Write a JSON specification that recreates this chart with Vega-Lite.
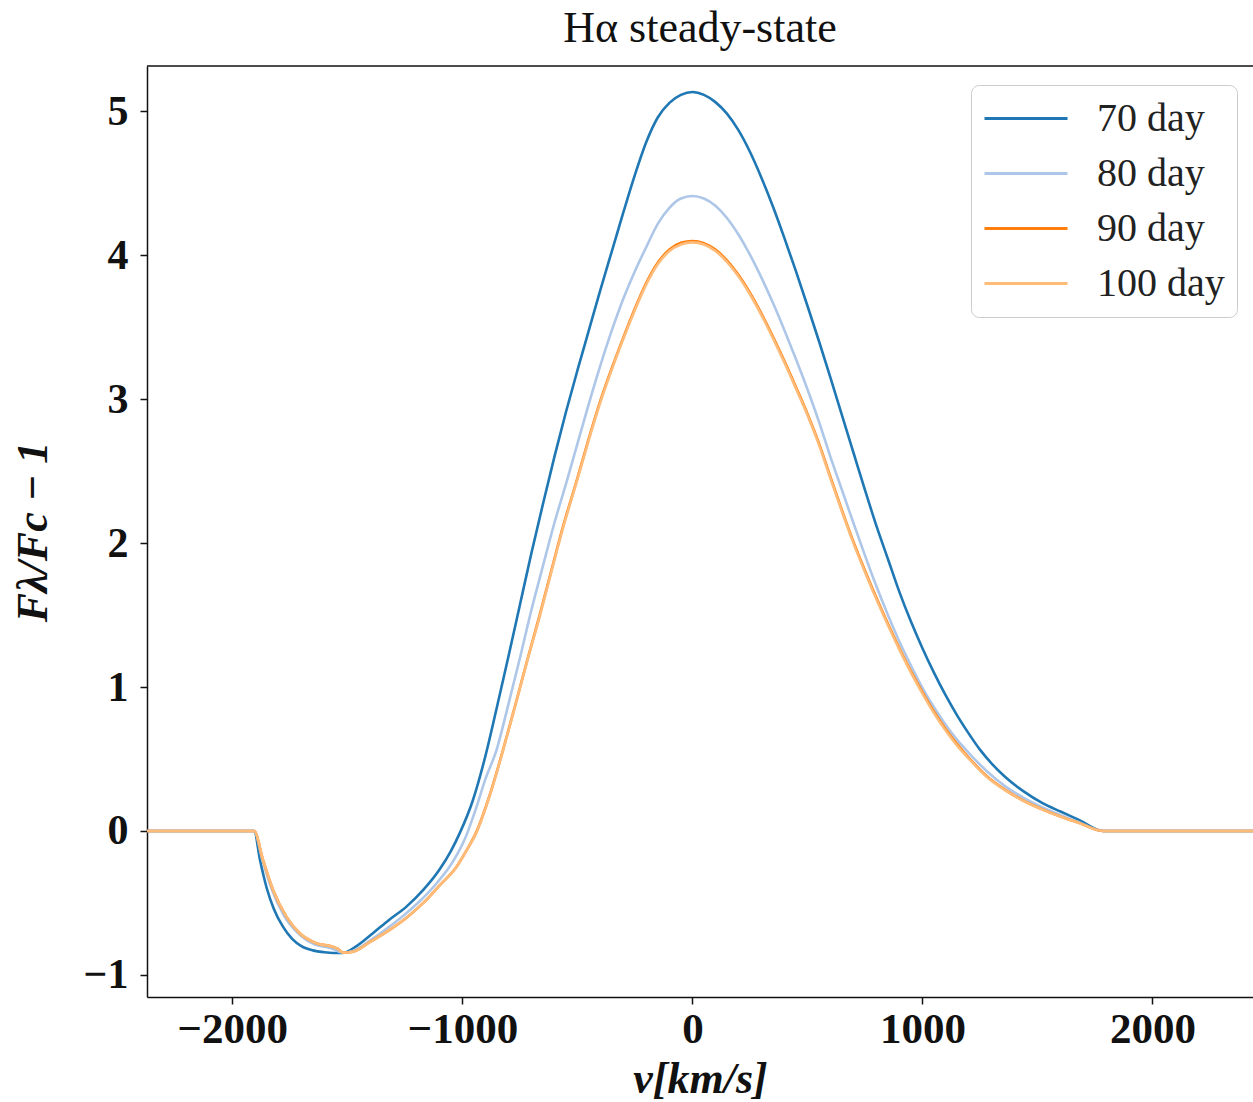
{
  "$schema": "https://vega.github.io/schema/vega-lite/v6.json",
  "width": 1106,
  "height": 931,
  "autosize": {"type": "none"},
  "padding": {"left": 147, "top": 66, "right": 0, "bottom": 105},
  "background": "white",
  "config": {"view": {"stroke": null}, "font": "Liberation Serif"},
  "title": {"text": "Hα steady-state", "fontSize": 44, "font": "Liberation Serif", "fontWeight": "normal", "color": "#111111", "offset": 14, "anchor": "middle"},
  "datasets": {
    "d70": [
      {"v": -2400, "f": 0}, {"v": -1905, "f": 0}, {"v": -1880, "f": -0.2}, {"v": -1850, "f": -0.4}, {"v": -1820, "f": -0.54}, {"v": -1780, "f": -0.665}, {"v": -1740, "f": -0.75}, {"v": -1700, "f": -0.8}, {"v": -1650, "f": -0.83}, {"v": -1600, "f": -0.843}, {"v": -1560, "f": -0.848}, {"v": -1520, "f": -0.848}, {"v": -1460, "f": -0.8}, {"v": -1389, "f": -0.711}, {"v": -1320, "f": -0.62}, {"v": -1243, "f": -0.526}, {"v": -1170, "f": -0.41}, {"v": -1100, "f": -0.27}, {"v": -1050, "f": -0.14}, {"v": -1010, "f": -0.01}, {"v": -955, "f": 0.21}, {"v": -900, "f": 0.52}, {"v": -850, "f": 0.86}, {"v": -800, "f": 1.21}, {"v": -750, "f": 1.57}, {"v": -700, "f": 1.93}, {"v": -650, "f": 2.27}, {"v": -600, "f": 2.6}, {"v": -550, "f": 2.91}, {"v": -500, "f": 3.2}, {"v": -450, "f": 3.48}, {"v": -400, "f": 3.76}, {"v": -350, "f": 4.03}, {"v": -300, "f": 4.3}, {"v": -250, "f": 4.56}, {"v": -200, "f": 4.79}, {"v": -150, "f": 4.96}, {"v": -100, "f": 5.06}, {"v": -50, "f": 5.115}, {"v": 0, "f": 5.135}, {"v": 50, "f": 5.115}, {"v": 100, "f": 5.065}, {"v": 150, "f": 4.985}, {"v": 200, "f": 4.87}, {"v": 250, "f": 4.72}, {"v": 300, "f": 4.54}, {"v": 350, "f": 4.34}, {"v": 400, "f": 4.12}, {"v": 450, "f": 3.89}, {"v": 500, "f": 3.65}, {"v": 550, "f": 3.405}, {"v": 600, "f": 3.15}, {"v": 650, "f": 2.89}, {"v": 700, "f": 2.63}, {"v": 750, "f": 2.37}, {"v": 800, "f": 2.12}, {"v": 850, "f": 1.89}, {"v": 900, "f": 1.66}, {"v": 950, "f": 1.455}, {"v": 1000, "f": 1.27}, {"v": 1050, "f": 1.1}, {"v": 1100, "f": 0.945}, {"v": 1150, "f": 0.805}, {"v": 1200, "f": 0.68}, {"v": 1250, "f": 0.565}, {"v": 1300, "f": 0.47}, {"v": 1360, "f": 0.375}, {"v": 1440, "f": 0.275}, {"v": 1520, "f": 0.195}, {"v": 1600, "f": 0.135}, {"v": 1680, "f": 0.077}, {"v": 1784, "f": 0}, {"v": 2500, "f": 0}
    ],
    "d80": [
      {"v": -2400, "f": 0}, {"v": -1905, "f": 0}, {"v": -1870, "f": -0.2}, {"v": -1830, "f": -0.4}, {"v": -1775, "f": -0.59}, {"v": -1715, "f": -0.71}, {"v": -1640, "f": -0.79}, {"v": -1570, "f": -0.815}, {"v": -1519, "f": -0.846}, {"v": -1476, "f": -0.835}, {"v": -1400, "f": -0.76}, {"v": -1330, "f": -0.68}, {"v": -1250, "f": -0.58}, {"v": -1180, "f": -0.48}, {"v": -1110, "f": -0.36}, {"v": -1040, "f": -0.21}, {"v": -985, "f": -0.04}, {"v": -940, "f": 0.16}, {"v": -900, "f": 0.36}, {"v": -852, "f": 0.56}, {"v": -800, "f": 0.88}, {"v": -750, "f": 1.2}, {"v": -707, "f": 1.49}, {"v": -650, "f": 1.84}, {"v": -600, "f": 2.14}, {"v": -548, "f": 2.42}, {"v": -500, "f": 2.69}, {"v": -450, "f": 2.97}, {"v": -403, "f": 3.22}, {"v": -350, "f": 3.48}, {"v": -300, "f": 3.7}, {"v": -250, "f": 3.89}, {"v": -200, "f": 4.06}, {"v": -150, "f": 4.22}, {"v": -100, "f": 4.33}, {"v": -50, "f": 4.395}, {"v": 0, "f": 4.413}, {"v": 50, "f": 4.395}, {"v": 100, "f": 4.345}, {"v": 150, "f": 4.26}, {"v": 200, "f": 4.145}, {"v": 250, "f": 4.005}, {"v": 300, "f": 3.845}, {"v": 350, "f": 3.67}, {"v": 400, "f": 3.48}, {"v": 450, "f": 3.28}, {"v": 500, "f": 3.07}, {"v": 550, "f": 2.845}, {"v": 600, "f": 2.6}, {"v": 650, "f": 2.37}, {"v": 700, "f": 2.14}, {"v": 750, "f": 1.915}, {"v": 800, "f": 1.7}, {"v": 850, "f": 1.5}, {"v": 900, "f": 1.315}, {"v": 950, "f": 1.15}, {"v": 1000, "f": 0.995}, {"v": 1050, "f": 0.86}, {"v": 1100, "f": 0.74}, {"v": 1150, "f": 0.635}, {"v": 1200, "f": 0.545}, {"v": 1280, "f": 0.415}, {"v": 1360, "f": 0.31}, {"v": 1440, "f": 0.23}, {"v": 1520, "f": 0.165}, {"v": 1600, "f": 0.11}, {"v": 1680, "f": 0.061}, {"v": 1784, "f": 0}, {"v": 2500, "f": 0}
    ],
    "d90": [
      {"v": -2400, "f": 0}, {"v": -1905, "f": 0}, {"v": -1867, "f": -0.2}, {"v": -1823, "f": -0.41}, {"v": -1765, "f": -0.595}, {"v": -1707, "f": -0.711}, {"v": -1635, "f": -0.78}, {"v": -1563, "f": -0.805}, {"v": -1540, "f": -0.82}, {"v": -1519, "f": -0.846}, {"v": -1476, "f": -0.839}, {"v": -1400, "f": -0.77}, {"v": -1316, "f": -0.688}, {"v": -1240, "f": -0.6}, {"v": -1171, "f": -0.502}, {"v": -1100, "f": -0.38}, {"v": -1026, "f": -0.25}, {"v": -980, "f": -0.13}, {"v": -940, "f": -0.01}, {"v": -880, "f": 0.255}, {"v": -823, "f": 0.565}, {"v": -770, "f": 0.875}, {"v": -720, "f": 1.175}, {"v": -664, "f": 1.5}, {"v": -610, "f": 1.83}, {"v": -560, "f": 2.13}, {"v": -504, "f": 2.43}, {"v": -450, "f": 2.73}, {"v": -400, "f": 2.99}, {"v": -345, "f": 3.24}, {"v": -300, "f": 3.43}, {"v": -250, "f": 3.63}, {"v": -200, "f": 3.81}, {"v": -150, "f": 3.95}, {"v": -100, "f": 4.04}, {"v": -50, "f": 4.087}, {"v": 0, "f": 4.1}, {"v": 50, "f": 4.085}, {"v": 100, "f": 4.04}, {"v": 150, "f": 3.965}, {"v": 200, "f": 3.865}, {"v": 250, "f": 3.74}, {"v": 300, "f": 3.595}, {"v": 350, "f": 3.435}, {"v": 400, "f": 3.265}, {"v": 450, "f": 3.085}, {"v": 500, "f": 2.9}, {"v": 550, "f": 2.695}, {"v": 600, "f": 2.46}, {"v": 650, "f": 2.23}, {"v": 700, "f": 2.01}, {"v": 750, "f": 1.81}, {"v": 800, "f": 1.62}, {"v": 850, "f": 1.44}, {"v": 900, "f": 1.27}, {"v": 950, "f": 1.11}, {"v": 1000, "f": 0.965}, {"v": 1050, "f": 0.83}, {"v": 1100, "f": 0.71}, {"v": 1150, "f": 0.605}, {"v": 1200, "f": 0.512}, {"v": 1280, "f": 0.38}, {"v": 1360, "f": 0.285}, {"v": 1440, "f": 0.21}, {"v": 1520, "f": 0.151}, {"v": 1600, "f": 0.1}, {"v": 1680, "f": 0.056}, {"v": 1784, "f": 0}, {"v": 2500, "f": 0}
    ],
    "d100": [
      {"v": -2400, "f": 0}, {"v": -1905, "f": 0}, {"v": -1867, "f": -0.2}, {"v": -1823, "f": -0.41}, {"v": -1765, "f": -0.595}, {"v": -1707, "f": -0.711}, {"v": -1635, "f": -0.78}, {"v": -1563, "f": -0.805}, {"v": -1540, "f": -0.82}, {"v": -1519, "f": -0.846}, {"v": -1476, "f": -0.839}, {"v": -1400, "f": -0.77}, {"v": -1316, "f": -0.688}, {"v": -1240, "f": -0.6}, {"v": -1171, "f": -0.502}, {"v": -1100, "f": -0.38}, {"v": -1026, "f": -0.25}, {"v": -980, "f": -0.13}, {"v": -940, "f": -0.015}, {"v": -880, "f": 0.25}, {"v": -823, "f": 0.56}, {"v": -770, "f": 0.87}, {"v": -720, "f": 1.17}, {"v": -664, "f": 1.49}, {"v": -610, "f": 1.82}, {"v": -560, "f": 2.12}, {"v": -504, "f": 2.42}, {"v": -450, "f": 2.72}, {"v": -400, "f": 2.98}, {"v": -345, "f": 3.23}, {"v": -300, "f": 3.42}, {"v": -250, "f": 3.62}, {"v": -200, "f": 3.8}, {"v": -150, "f": 3.94}, {"v": -100, "f": 4.03}, {"v": -50, "f": 4.075}, {"v": 0, "f": 4.09}, {"v": 50, "f": 4.075}, {"v": 100, "f": 4.03}, {"v": 150, "f": 3.955}, {"v": 200, "f": 3.855}, {"v": 250, "f": 3.73}, {"v": 300, "f": 3.585}, {"v": 350, "f": 3.425}, {"v": 400, "f": 3.255}, {"v": 450, "f": 3.075}, {"v": 500, "f": 2.89}, {"v": 550, "f": 2.685}, {"v": 600, "f": 2.45}, {"v": 650, "f": 2.22}, {"v": 700, "f": 2.0}, {"v": 750, "f": 1.8}, {"v": 800, "f": 1.61}, {"v": 850, "f": 1.43}, {"v": 900, "f": 1.26}, {"v": 950, "f": 1.1}, {"v": 1000, "f": 0.955}, {"v": 1050, "f": 0.82}, {"v": 1100, "f": 0.7}, {"v": 1150, "f": 0.595}, {"v": 1200, "f": 0.505}, {"v": 1280, "f": 0.375}, {"v": 1360, "f": 0.282}, {"v": 1440, "f": 0.208}, {"v": 1520, "f": 0.15}, {"v": 1600, "f": 0.1}, {"v": 1680, "f": 0.055}, {"v": 1784, "f": 0}, {"v": 2500, "f": 0}
    ],
    "frame": [{"top": 5.316, "lo": -2371, "hi": 2437}]
  },
  "layer": [
    {
      "data": {"name": "d70"},
      "mark": {"type": "line", "strokeWidth": 2.6, "interpolate": "monotone", "clip": true},
      "encoding": {
        "x": {
          "field": "v", "type": "quantitative",
          "scale": {"domain": [-2371, 2437], "nice": false, "zero": false},
          "axis": {
            "title": "v[km/s]", "values": [-2000, -1000, 0, 1000, 2000], "format": "d", "grid": false,
            "labelFont": "Liberation Serif", "labelFontWeight": "bold", "labelFontSize": 43, "labelColor": "#111111", "labelFlush": false,
            "tickColor": "#111111", "tickSize": 7, "tickWidth": 1.5, "domainColor": "#111111", "domainWidth": 1.5, "labelPadding": 4,
            "titleFont": "Liberation Serif", "titleFontStyle": "italic", "titleFontWeight": "bold", "titleFontSize": 44, "titleColor": "#111111", "titlePadding": 6
          }
        },
        "y": {
          "field": "f", "type": "quantitative",
          "scale": {"domain": [-1.154, 5.316], "nice": false, "zero": false},
          "axis": {
            "title": "Fλ/Fc − 1", "values": [-1, 0, 1, 2, 3, 4, 5], "format": "d", "grid": false,
            "labelFont": "Liberation Serif", "labelFontWeight": "bold", "labelFontSize": 42, "labelColor": "#111111",
            "tickColor": "#111111", "tickSize": 7, "tickWidth": 1.5, "domainColor": "#111111", "domainWidth": 1.5, "labelPadding": 12,
            "titleFont": "Liberation Serif", "titleFontStyle": "italic", "titleFontWeight": "bold", "titleFontSize": 44, "titleColor": "#111111", "titlePadding": 28
          }
        },
        "color": {
          "datum": "70 day", "type": "nominal",
          "scale": {"domain": ["70 day", "80 day", "90 day", "100 day"], "range": ["#1f77b4", "#aec7e8", "#ff7f0e", "#ffbb78"]},
          "legend": {
            "title": null, "orient": "none", "legendX": 824, "legendY": 19,
            "symbolType": "M-1,0H1", "symbolSize": 6889, "symbolStrokeWidth": 3,
            "labelFont": "Liberation Serif", "labelFontSize": 40, "labelColor": "#222222", "labelOffset": 28,
            "clipHeight": 43, "rowPadding": 12, "padding": 12, "fillColor": "rgba(255,255,255,0.85)", "strokeColor": "#cccccc", "cornerRadius": 8
          }
        }
      }
    },
    {
      "data": {"name": "d80"},
      "mark": {"type": "line", "strokeWidth": 2.6, "interpolate": "monotone", "clip": true},
      "encoding": {"x": {"field": "v", "type": "quantitative"}, "y": {"field": "f", "type": "quantitative"}, "color": {"datum": "80 day", "type": "nominal"}}
    },
    {
      "data": {"name": "d90"},
      "mark": {"type": "line", "strokeWidth": 2.6, "interpolate": "monotone", "clip": true},
      "encoding": {"x": {"field": "v", "type": "quantitative"}, "y": {"field": "f", "type": "quantitative"}, "color": {"datum": "90 day", "type": "nominal"}}
    },
    {
      "data": {"name": "d100"},
      "mark": {"type": "line", "strokeWidth": 2.6, "interpolate": "monotone", "clip": true},
      "encoding": {"x": {"field": "v", "type": "quantitative"}, "y": {"field": "f", "type": "quantitative"}, "color": {"datum": "100 day", "type": "nominal"}}
    },
    {
      "data": {"name": "frame"},
      "mark": {"type": "rule", "color": "#111111", "strokeWidth": 1.5},
      "encoding": {"x": {"field": "lo", "type": "quantitative"}, "x2": {"field": "hi"}, "y": {"field": "top", "type": "quantitative"}}
    }
  ]
}
